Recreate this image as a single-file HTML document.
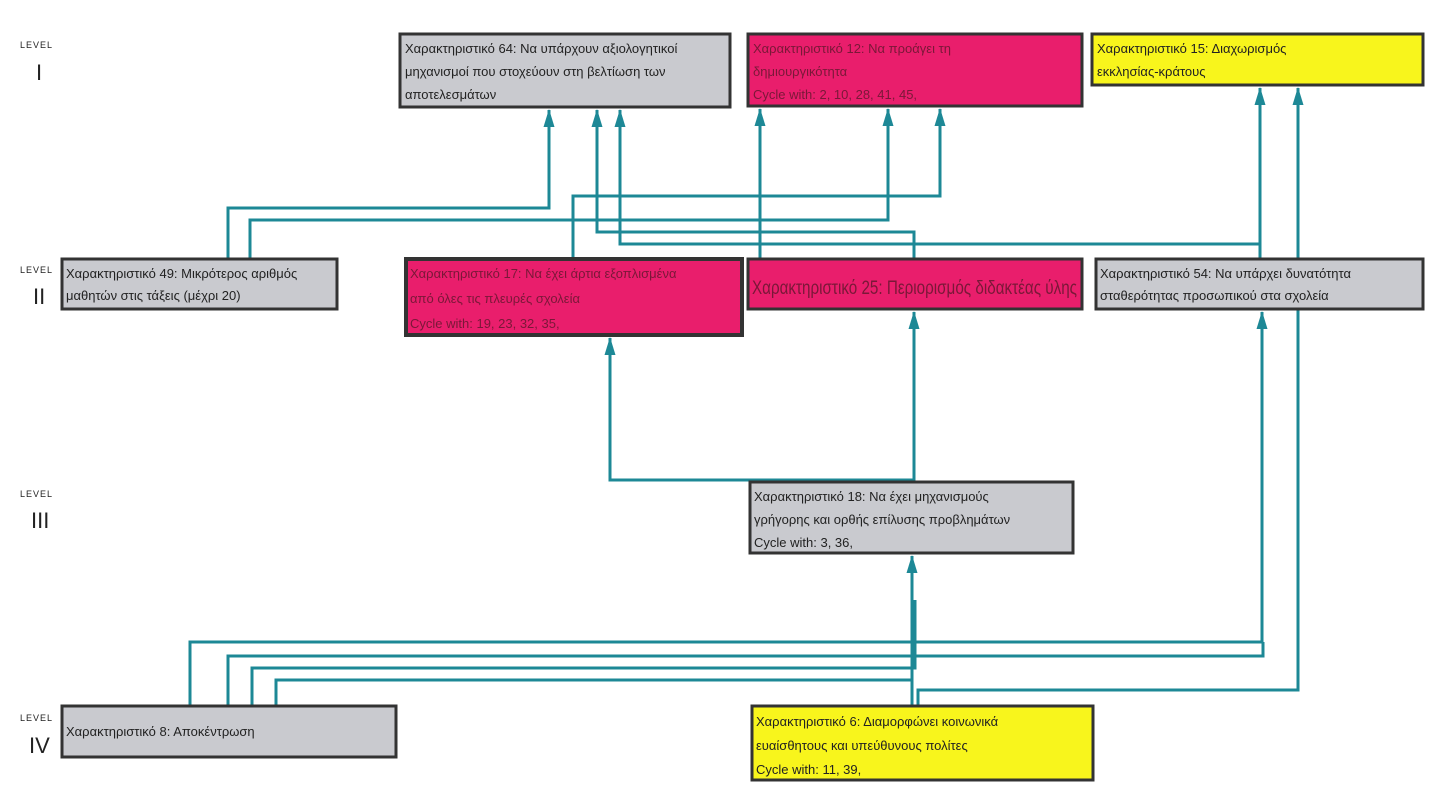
<!DOCTYPE html>
<html><head><meta charset="utf-8"><style>
html,body{margin:0;padding:0;background:#fff;}
svg{display:block}
text{font-family:"Liberation Sans",Arial,sans-serif;fill:#222}
.t{font-size:13px}
.lv{font-size:9px;letter-spacing:1px}
.rn{font-size:22px;font-weight:100}
</style></head><body>
<svg width="1440" height="807" viewBox="0 0 1440 807" xmlns="http://www.w3.org/2000/svg">
<defs>
<marker id="a" markerWidth="18" markerHeight="12" refX="17" refY="6" orient="auto" markerUnits="userSpaceOnUse">
<path d="M0,0.5 L18,6 L0,11.5 Z" fill="#1d8896"/></marker>
</defs>
<text class="lv" x="20" y="48">LEVEL</text><text class="rn" x="36" y="80">I</text>
<text class="lv" x="20" y="273">LEVEL</text><text class="rn" x="33" y="304">II</text>
<text class="lv" x="20" y="497">LEVEL</text><text class="rn" x="31" y="528">III</text>
<text class="lv" x="20" y="721">LEVEL</text><text class="rn" x="29" y="753">IV</text>

<g fill="none" stroke="#1d8896" stroke-width="3">
<polyline points="228,259 228,208 549,208 549,110" marker-end="url(#a)"/>
<polyline points="250,259 250,220 888,220 888,109" marker-end="url(#a)"/>
<polyline points="573,259 573,196 940,196 940,109" marker-end="url(#a)"/>
<polyline points="914,259 914,232 597,232 597,110" marker-end="url(#a)"/>
<polyline points="1260,244 620,244 620,110" marker-end="url(#a)"/>
<polyline points="1260,259 1260,88" marker-end="url(#a)"/>
<polyline points="760,259 760,109" marker-end="url(#a)"/>
<polyline points="914,482 914,480 610,480 610,338" marker-end="url(#a)"/>
<polyline points="914,482 914,312" marker-end="url(#a)"/>
<polyline points="912,706 912,556" marker-end="url(#a)"/>
<polyline points="918,706 918,690 1298,690 1298,88" marker-end="url(#a)"/>
<polyline points="190,706 190,642 1262,642 1262,312" marker-end="url(#a)"/>
<polyline points="228,706 228,656 1263,656 1263,642"/>
<polyline points="252,706 252,668 915,668 915,600"/>
<polyline points="276,706 276,680 912,680"/>
</g>

<g stroke="#333" stroke-width="3">
<rect x="400" y="34" width="330" height="73" fill="#c9cacf"/>
<rect x="748" y="34" width="334" height="72" fill="#e91e6c"/>
<rect x="1092" y="34" width="331" height="51" fill="#f8f51c"/>
<rect x="62" y="259" width="275" height="50" fill="#c9cacf"/>
<rect x="406" y="259" width="336" height="76" fill="#e91e6c" stroke-width="4"/>
<rect x="748" y="259" width="334" height="50" fill="#e91e6c"/>
<rect x="1096" y="259" width="327" height="50" fill="#c9cacf"/>
<rect x="750" y="482" width="323" height="71" fill="#c9cacf"/>
<rect x="62" y="706" width="334" height="51" fill="#c9cacf"/>
<rect x="752" y="706" width="341" height="74" fill="#f8f51c"/>
</g>

<g class="t">
<text x="405" y="53">Χαρακτηριστικό 64: Να υπάρχουν αξιολογητικοί</text>
<text x="405" y="76">μηχανισμοί που στοχεύουν στη βελτίωση των</text>
<text x="405" y="99">αποτελεσμάτων</text>
<text x="753" y="53" style="fill:#7a1838">Χαρακτηριστικό 12: Να προάγει τη</text>
<text x="753" y="76" style="fill:#7a1838">δημιουργικότητα</text>
<text x="753" y="99" style="fill:#7a1838">Cycle with: 2, 10, 28, 41, 45,</text>
<text x="1097" y="53">Χαρακτηριστικό 15: Διαχωρισμός</text>
<text x="1097" y="76">εκκλησίας-κράτους</text>
<text x="66" y="278">Χαρακτηριστικό 49: Μικρότερος αριθμός</text>
<text x="66" y="300">μαθητών στις τάξεις (μέχρι 20)</text>
<text x="410" y="278" style="fill:#7a1838">Χαρακτηριστικό 17: Να έχει άρτια εξοπλισμένα</text>
<text x="410" y="303" style="fill:#7a1838">από όλες τις πλευρές σχολεία</text>
<text x="410" y="328" style="fill:#7a1838">Cycle with: 19, 23, 32, 35,</text>
<text x="752" y="294" style="font-size:19px;fill:#7a1838" textLength="325" lengthAdjust="spacingAndGlyphs">Χαρακτηριστικό 25: Περιορισμός διδακτέας ύλης</text>
<text x="1100" y="278">Χαρακτηριστικό 54: Να υπάρχει δυνατότητα</text>
<text x="1100" y="300">σταθερότητας προσωπικού στα σχολεία</text>
<text x="754" y="501">Χαρακτηριστικό 18: Να έχει μηχανισμούς</text>
<text x="754" y="524">γρήγορης και ορθής επίλυσης προβλημάτων</text>
<text x="754" y="547">Cycle with: 3, 36,</text>
<text x="66" y="736">Χαρακτηριστικό 8: Αποκέντρωση</text>
<text x="756" y="726">Χαρακτηριστικό 6: Διαμορφώνει κοινωνικά</text>
<text x="756" y="750">ευαίσθητους και υπεύθυνους πολίτες</text>
<text x="756" y="774">Cycle with: 11, 39,</text>
</g>
</svg>
</body></html>
